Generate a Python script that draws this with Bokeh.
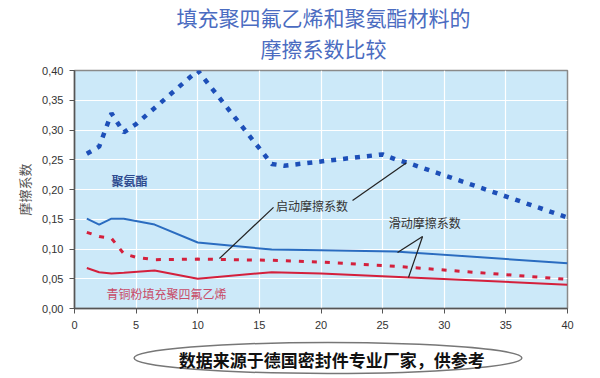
from bokeh.plotting import figure
from bokeh.models import Range1d, Label, CustomJSTickFormatter, FixedTicker
from bokeh.layouts import column
from bokeh.core.properties import value
from bokeh.embed import file_html
from bokeh.resources import INLINE

# ---- data ----
x_pu_start = [1, 2, 3, 4, 5, 10, 16, 17, 25, 26, 27, 40]
pu_start = [0.26, 0.272, 0.328, 0.296, 0.31, 0.40, 0.243, 0.24, 0.259, 0.251, 0.245, 0.153]

x_pu_slide = [1, 2, 3, 4, 6.5, 10, 16, 20, 26, 40]
pu_slide = [0.151, 0.141, 0.151, 0.151, 0.141, 0.111, 0.099, 0.098, 0.096, 0.076]

x_ptfe_start = [1, 2, 3, 4, 5, 6.5, 10, 16, 20, 26, 40]
ptfe_start = [0.128, 0.121, 0.118, 0.092, 0.086, 0.082, 0.083, 0.081, 0.078, 0.071, 0.049]

x_ptfe_slide = [1, 2, 3, 4, 6.5, 10, 16, 20, 40]
ptfe_slide = [0.068, 0.061, 0.059, 0.060, 0.064, 0.050, 0.061, 0.059, 0.040]

x_ticks = [0, 5, 10, 15, 20, 25, 30, 35, 40]
y_ticks = [0.0, 0.05, 0.10, 0.15, 0.20, 0.25, 0.30, 0.35, 0.40]

title_lines = ["填充聚四氟乙烯和聚氨酯材料的", "摩擦系数比较"]
y_title = "摩擦系数"
caption = "数据来源于德国密封件专业厂家，供参考"

FONT = "Noto Sans CJK SC"

# ---- title panel ----
tf = figure(width=600, height=63, x_range=Range1d(0, 600), y_range=Range1d(0, 63),
            output_backend="svg", toolbar_location=None,
            min_border_left=0, min_border_right=0, min_border_top=0, min_border_bottom=0)
tf.axis.visible = False
tf.grid.visible = False
tf.outline_line_color = None
tf.text(x=[303, 303], y=[47, 16], text=title_lines, text_align="center",
        text_baseline="middle", text_font_size="21px", text_color="#4b6cc1",
        text_font=value(FONT))

# ---- main chart ----
p = figure(width=600, height=275, x_range=Range1d(0, 40), y_range=Range1d(0, 0.40),
           output_backend="svg", toolbar_location=None,
           min_border_left=74, min_border_right=33, min_border_top=7, min_border_bottom=30)
p.background_fill_color = "#cce9f9"
p.border_fill_color = "white"
p.outline_line_color = "#8a8a8a"
p.outline_line_width = 1.5

p.xgrid.grid_line_color = "white"
p.ygrid.grid_line_color = "white"
p.xgrid.grid_line_width = 1.2
p.ygrid.grid_line_width = 1.2

p.xaxis.ticker = FixedTicker(ticks=x_ticks)
p.yaxis.ticker = FixedTicker(ticks=y_ticks)
p.yaxis.formatter = CustomJSTickFormatter(code="return tick.toFixed(2).replace('.', ',');")
for ax in (p.xaxis, p.yaxis):
    ax.axis_line_color = "#555555"
    ax.axis_line_width = 1.5
    ax.major_tick_line_color = "#555555"
    ax.major_tick_out = 5
    ax.major_tick_in = 0
    ax.minor_tick_line_color = None
    ax.major_label_text_font = "Liberation Sans"
    ax.major_label_text_font_size = "11px"
    ax.major_label_text_color = "#333333"
p.xaxis.major_label_standoff = 7
p.yaxis.major_label_standoff = 6
p.yaxis.axis_label = y_title
p.yaxis.axis_label_text_font = FONT
p.yaxis.axis_label_text_font_size = "13px"
p.yaxis.axis_label_text_font_style = "normal"
p.yaxis.axis_label_text_color = "#555555"
p.yaxis.axis_label_standoff = 5

red = "#d4203c"
blue_dash = "#1d4fb8"
blue = "#2a6cc0"

p.line(x_pu_start, pu_start, line_color=blue_dash, line_width=4.5, line_dash="5 7")
p.line(x_pu_slide, pu_slide, line_color=blue, line_width=2)
p.line(x_ptfe_start, ptfe_start, line_color=red, line_width=3, line_dash="5 8")
p.line(x_ptfe_slide, ptfe_slide, line_color=red, line_width=2)

# leader lines
p.segment(x0=[16.15, 22.56, 28.24, 28.24], y0=[0.170, 0.1815, 0.121, 0.121],
          x1=[11.76, 26.94, 26.21, 27.10], y1=[0.084, 0.245, 0.094, 0.052],
          line_color="#222222", line_width=1.2)

def lab(x, y, text, color, size="12px", align="left", bold=False):
    p.add_layout(Label(x=x, y=y, text=text, text_color=color, text_font=FONT,
                       text_font_size=size, text_align=align, text_baseline="middle",
                       text_font_style="bold" if bold else "normal"))

lab(4.46, 0.215, "聚氨酯", "#2d4a8f", align="center", bold=True)
lab(16.35, 0.173, "启动摩擦系数", "#333333")
lab(25.5, 0.1445, "滑动摩擦系数", "#333333")
lab(2.6, 0.025, "青铜粉填充聚四氟乙烯", "#c84c68")

# ---- caption panel ----
cap = figure(width=600, height=40, x_range=Range1d(0, 600), y_range=Range1d(0, 40),
             output_backend="svg", toolbar_location=None,
             min_border_left=0, min_border_right=0, min_border_top=0, min_border_bottom=0)
cap.axis.visible = False
cap.grid.visible = False
cap.outline_line_color = None
cap.ellipse(x=[308.5], y=[20.5], width=[472], height=[31], fill_color="white",
            line_color="#777777", line_width=1.5)
cap.text(x=[313], y=[19], text=[caption], text_align="center", text_baseline="middle",
         text_font_size="17px", text_font_style="bold", text_color="#111111",
         text_font=value(FONT))

layout = column(tf, p, cap, spacing=0)
open("out.html", "w").write(file_html(layout, INLINE))
